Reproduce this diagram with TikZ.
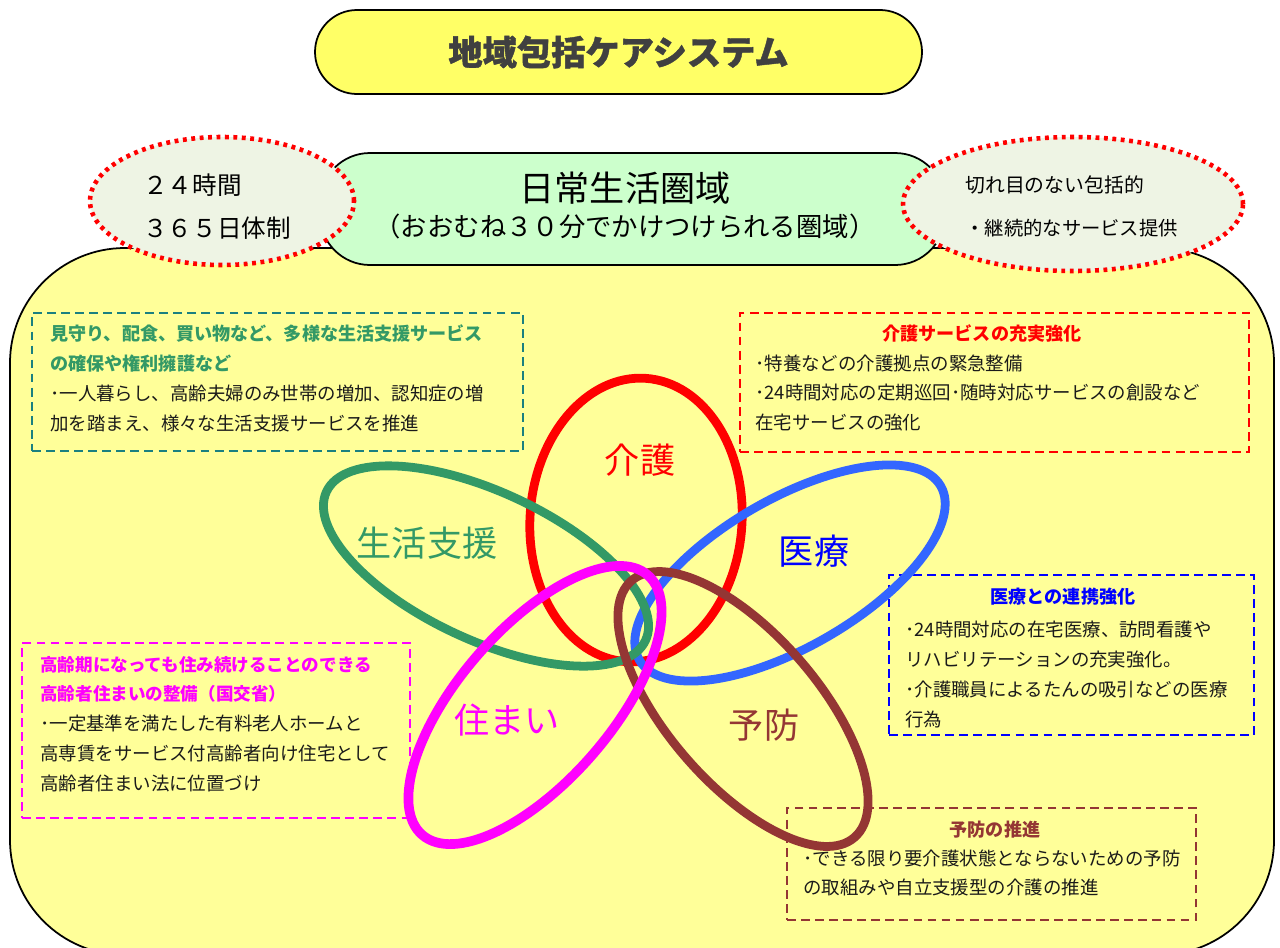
\documentclass[tikz,border=0pt]{standalone}
\usepackage{fontspec}
\newfontfamily\jp{Noto Sans CJK JP}
\newfontfamily\jptitle{Noto Sans CJK JP}[BoldFeatures={FakeBold=1.2}]
\usetikzlibrary{shapes.geometric}
\definecolor{bgyellow}{HTML}{FFFF99}
\definecolor{titleyellow}{HTML}{FFFF66}
\definecolor{zonegreen}{HTML}{CCFFCC}
\definecolor{dotfill}{HTML}{EEF4E4}
\definecolor{lifegreen}{HTML}{339966}
\definecolor{tealdash}{HTML}{1A8080}
\definecolor{medblue}{HTML}{3366FF}
\definecolor{pureblue}{HTML}{0000FF}
\definecolor{puremagenta}{HTML}{FF00FF}
\definecolor{purered}{HTML}{FF0000}
\definecolor{brown}{HTML}{943634}
\definecolor{ink}{HTML}{1A1A1A}
\definecolor{titleink}{HTML}{404040}
\def\px{0.02cm}
\tikzset{
  dotell/.style={ellipse, draw=purered, fill=dotfill, line width=2.6pt, dash pattern=on 2.2pt off 2.6pt, inner sep=0pt},
  dbox/.style={draw, dash pattern=on 5pt off 3pt, line width=1.6pt, inner sep=0pt},
  ell/.style={ellipse, draw, line width=5pt, inner sep=0pt},
  body/.style={font=\jp\fontsize{10.5}{17}\selectfont, text=ink, align=left, inner sep=0pt},
  btitle/.style={font=\jp\bfseries\fontsize{10.3}{17}\selectfont, inner sep=0pt},
  big/.style={font=\jp\fontsize{20}{24}\selectfont, inner sep=0pt}
}
\begin{document}
\begin{tikzpicture}[x=0.02cm,y=-0.02cm]
\useasboundingbox (0,0) rectangle (1280,947);
% background area
\begin{scope}
\clip (0,0) rectangle (1280,947);
\node[draw=black, line width=1pt, fill=bgyellow, rounded corners=2.3cm,
      minimum width=1264*\px, minimum height=707*\px, inner sep=0pt] (area) at (642,601.5) {};
\end{scope}
% title
\node[draw=black, line width=1pt, fill=titleyellow, rounded corners=0.84cm,
      minimum width=607*\px, minimum height=84*\px, inner sep=0pt,
      font=\jptitle\bfseries\fontsize{19.5}{22}\selectfont, text=titleink] (title) at (618.5,52) {地域包括ケアシステム};
% zone box
\node[draw=black, line width=1pt, fill=zonegreen, rounded corners=1cm,
      minimum width=625*\px, minimum height=112*\px, inner sep=0pt] (zone) at (632.5,209) {};
\node[font=\jp\fontsize{20}{24}\selectfont, inner sep=0pt] (zonet) at (625,188) {日常生活圏域};
\node[font=\jp\fontsize{15}{18}\selectfont, inner sep=0pt] (zones) at (625,226) {（おおむね３０分でかけつけられる圏域）};
% dotted ellipses
\node[dotell, minimum width=264*\px, minimum height=128*\px] (hours) at (222,201) {};
\node[anchor=west, font=\jp\fontsize{14}{16}\selectfont, inner sep=0pt] (h1) at (143,185) {２４時間};
\node[anchor=west, font=\jp\fontsize{14}{16}\selectfont, inner sep=0pt] (h2) at (143,228) {３６５日体制};
\node[dotell, minimum width=340*\px, minimum height=134*\px] (cont) at (1073,204) {};
\node[anchor=west, font=\jp\fontsize{11.3}{14}\selectfont, inner sep=0pt] (c1) at (965,185) {切れ目のない包括的};
\node[anchor=west, font=\jp\fontsize{11}{14}\selectfont, inner sep=0pt] (c2) at (965,228) {・継続的なサービス提供};
% box 1 life support
\node[dbox, draw=tealdash, minimum width=491*\px, minimum height=138*\px] (b1) at (277.5,382) {};
\node[body, anchor=west] (b1t) at (50,378.5) {\textcolor{lifegreen}{\bfseries\fontsize{10.3}{17}\selectfont 見守り、配食、買い物など、多様な生活支援サービス}\\
\textcolor{lifegreen}{\bfseries\fontsize{10.3}{17}\selectfont の確保や権利擁護など}\\
･一人暮らし、高齢夫婦のみ世帯の増加、認知症の増\\
加を踏まえ、様々な生活支援サービスを推進};
% box 2 care
\node[dbox, draw=purered, minimum width=509*\px, minimum height=139*\px] (b2) at (994.5,382.5) {};
\node[btitle, text=purered] (b2h) at (982,333) {介護サービスの充実強化};
\node[body, anchor=west] (b2t) at (755,393) {･特養などの介護拠点の緊急整備\\
･24時間対応の定期巡回･随時対応サービスの創設など\\
在宅サービスの強化};
% box 3 medical
\node[dbox, draw=pureblue, minimum width=365*\px, minimum height=160*\px] (b3) at (1071.5,655) {};
\node[btitle, text=pureblue] (b3h) at (1063,597) {医療との連携強化};
\node[body, anchor=west] (b3t) at (905,674.5) {･24時間対応の在宅医療、訪問看護や\\
リハビリテーションの充実強化。\\
･介護職員によるたんの吸引などの医療\\
行為};
% box 4 housing
\node[dbox, draw=puremagenta, minimum width=388*\px, minimum height=175*\px] (b4) at (216,730.5) {};
\node[body, anchor=west] (b4t) at (40,724) {\textcolor{puremagenta}{\bfseries\fontsize{10}{17}\selectfont 高齢期になっても住み続けることのできる}\\
\textcolor{puremagenta}{\bfseries\fontsize{10}{17}\selectfont 高齢者住まいの整備（国交省）}\\
･一定基準を満たした有料老人ホームと\\
高専賃をサービス付高齢者向け住宅として\\
高齢者住まい法に位置づけ};
% box 5 prevention
\node[dbox, draw=brown, minimum width=409*\px, minimum height=112*\px] (b5) at (991.5,864) {};
\node[btitle, text=brown] (b5h) at (995,830) {予防の推進};
\node[body, anchor=west] (b5t) at (803,873) {･できる限り要介護状態とならないための予防\\
の取組みや自立支援型の介護の推進};
% five ellipses
\node[ell, draw=purered, minimum width=212*\px, minimum height=284*\px, rotate=-4] (ekaigo) at (636,520) {};
\node[ell, draw=medblue, minimum width=348*\px, minimum height=148*\px, rotate=30] (eiryo) at (790,573) {};
\node[ell, draw=lifegreen, minimum width=352*\px, minimum height=148*\px, rotate=-25] (eseikatsu) at (486,566) {};
\node[ell, draw=brown, minimum width=340*\px, minimum height=150*\px, rotate=-49] (eyobo) at (743,709) {};
\node[ell, draw=puremagenta, line width=5.5pt, minimum width=344*\px, minimum height=152*\px, rotate=49] (esumai) at (535,705) {};
% labels
\node[big, text=purered] (lkaigo) at (640,460) {介護};
\node[big, text=lifegreen] (lseikatsu) at (427,543) {生活支援};
\node[big, text=pureblue] (liryo) at (814,551) {医療};
\node[big, text=puremagenta] (lsumai) at (507,720) {住まい};
\node[big, text=brown] (lyobo) at (764,725) {予防};
\end{tikzpicture}
\end{document}
